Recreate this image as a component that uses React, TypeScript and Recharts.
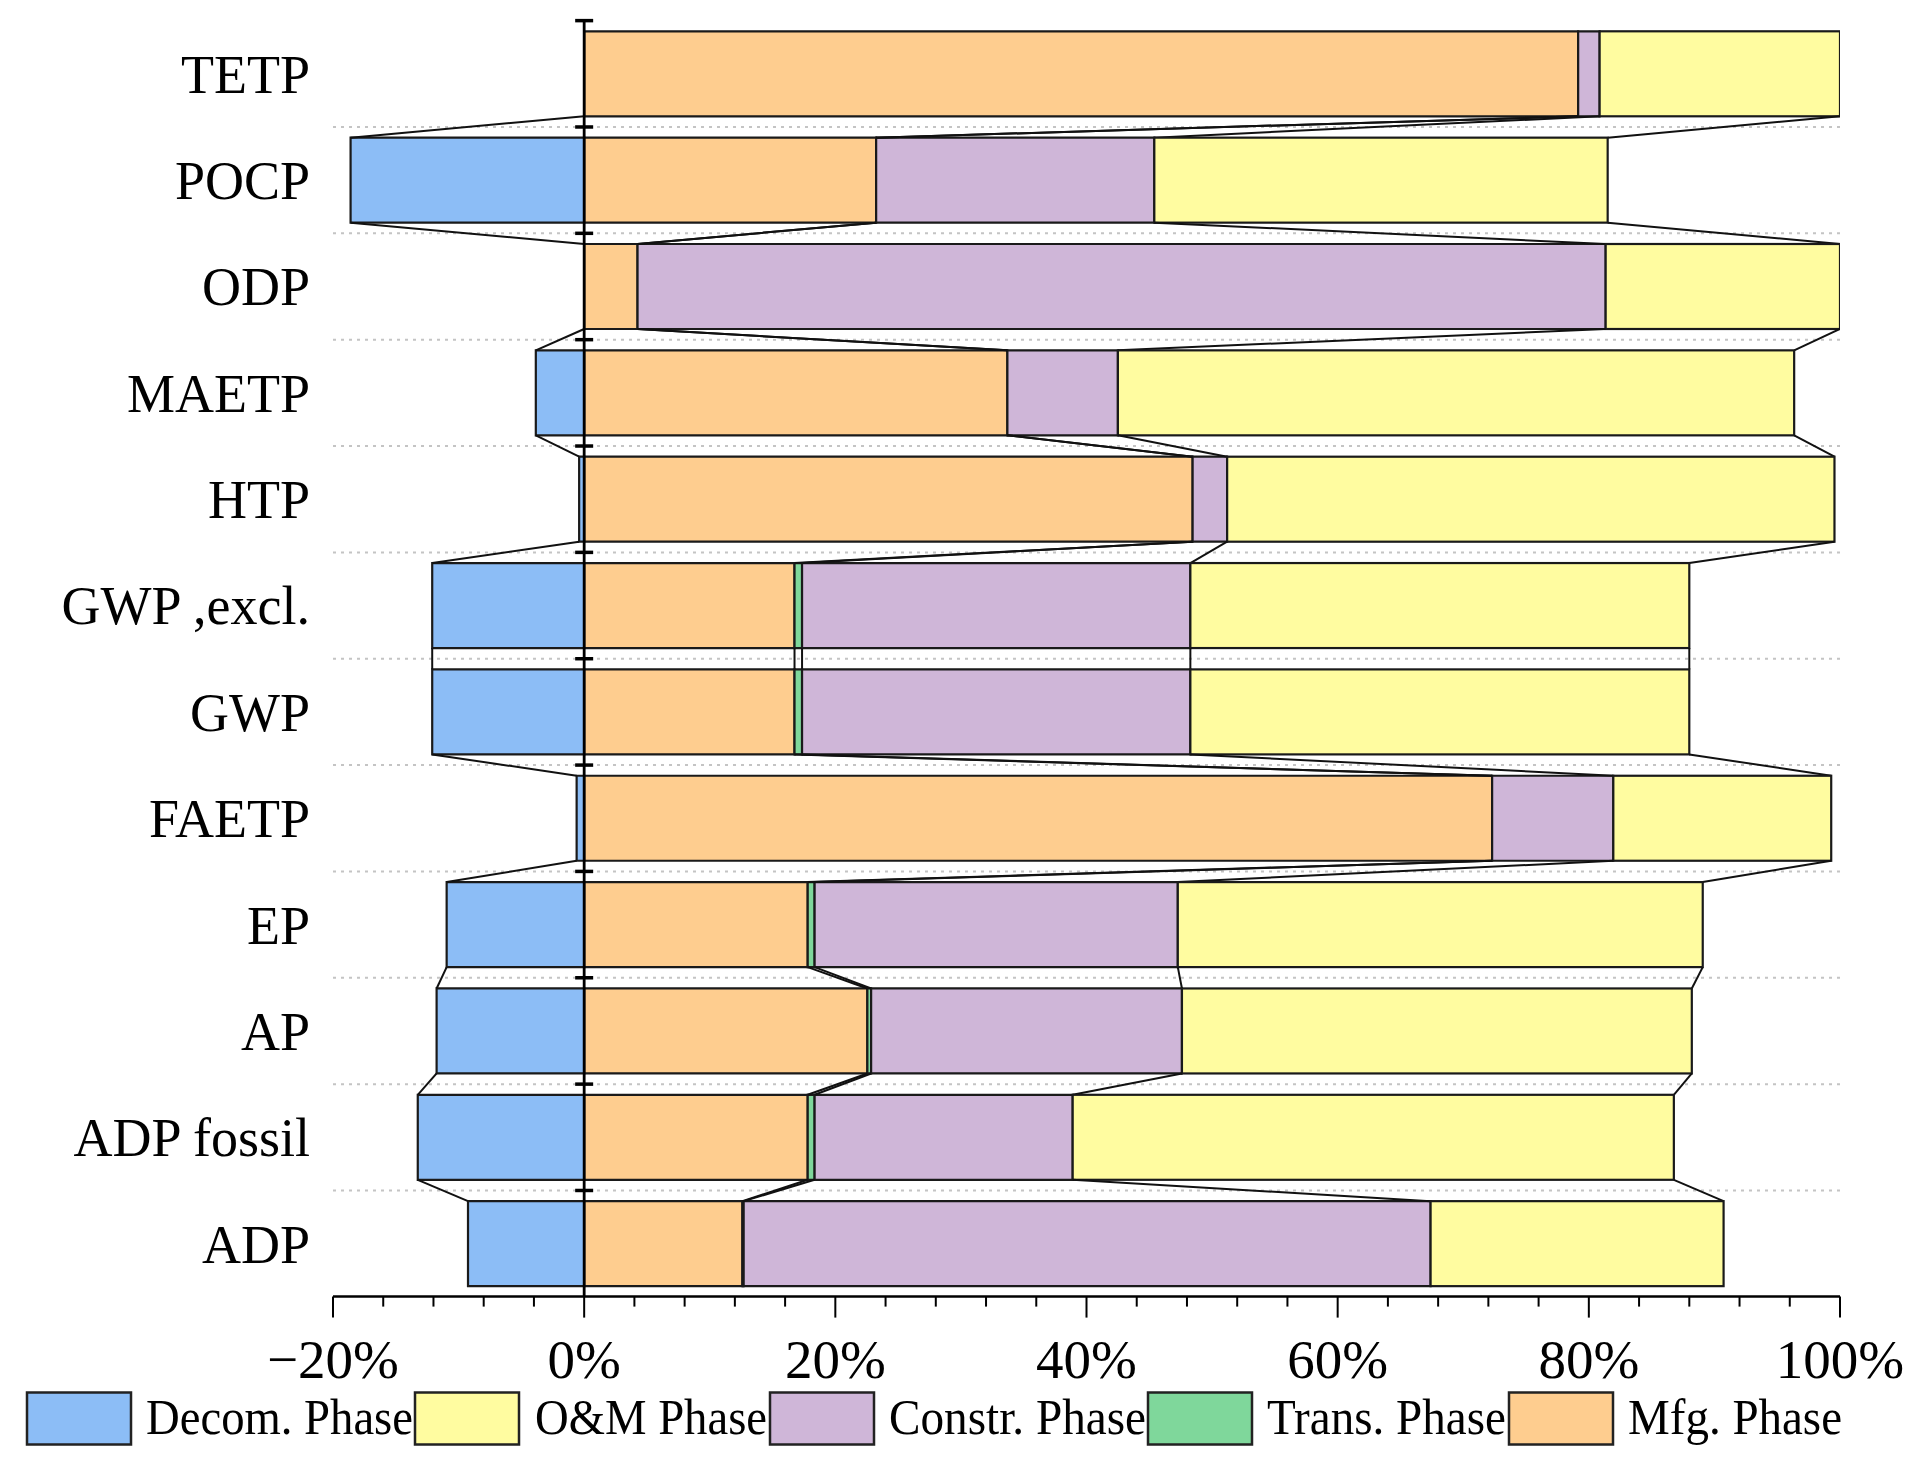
import React from 'react';
import { ComposedChart, Bar, XAxis, YAxis, ReferenceLine } from 'recharts';

const FONT = "'Liberation Serif', 'Times New Roman', serif";

const categories = ['TETP', 'POCP', 'ODP', 'MAETP', 'HTP', 'GWP ,excl.', 'GWP', 'FAETP', 'EP', 'AP', 'ADP fossil', 'ADP'];
const decom = [0, -18.6, 0, -3.85, -0.4, -12.1, -12.1, -0.6, -10.95, -11.75, -13.25, -9.25];
const mfg = [79.15, 23.25, 4.25, 33.7, 48.45, 16.75, 16.75, 72.3, 17.8, 22.55, 17.8, 12.6];
const trans = [0, 0, 0, 0, 0, 0.6, 0.6, 0, 0.55, 0.3, 0.55, 0.1];
const constr = [1.71, 22.15, 77.09, 8.8, 2.75, 30.92, 30.92, 9.65, 28.92, 24.75, 20.55, 54.7];
const om = [19.14, 36.1, 18.66, 53.85, 48.36, 39.73, 39.73, 17.35, 41.8, 40.6, 47.87, 23.33];

const xDomain = [-20, 100];
const xTicks = [-20, -16, -12, -8, -4, 0, 4, 8, 12, 16, 20, 24, 28, 32, 36, 40, 44, 48, 52, 56, 60, 64, 68, 72, 76, 80, 84, 88, 92, 96, 100];
const majorTicks = [-20, 0, 20, 40, 60, 80, 100];

const seriesNames = ['Decom. Phase', 'O&M Phase', 'Constr. Phase', 'Trans. Phase', 'Mfg. Phase'];
const seriesKeys = ['decom', 'om', 'constr', 'trans', 'mfg'];
const seriesColors = ['#8cbdf6', '#fffca0', '#cfb6d8', '#7fd79b', '#fecd8f'];

const data = categories.map((name, i) => ({
  name,
  decom: decom[i],
  mfg: mfg[i],
  trans: trans[i],
  constr: constr[i],
  om: om[i],
}));

// cumulative stack ends used by the connector lines between neighbouring bars
const ends = [
  decom,
  mfg,
  mfg.map((v, i) => v + trans[i]),
  mfg.map((v, i) => v + trans[i] + constr[i]),
  mfg.map((v, i) => v + trans[i] + constr[i] + om[i]),
];

const nCat = categories.length;

// chart layout
const CW = 1900;
const CH = 1400;
const M = { top: 12.4, right: 68, left: 0, bottom: 26.4 };
const XAXIS_H = 85;
const PLOT_H = CH - M.top - M.bottom - XAXIS_H;
const STEP = PLOT_H / nCat;

const colorOf = (k: string) => seriesColors[seriesKeys.indexOf(k)];

const XTick = (props: any) => {
  const { x, y, payload } = props;
  const v = payload.value;
  const major = majorTicks.includes(v);
  const label = v < 0 ? `\u2212${Math.abs(v)}%` : `${v}%`;
  return (
    <g>
      <line x1={x} x2={x} y1={y} y2={y + (major ? 21 : 10)} stroke="#000" strokeWidth={2} />
      {major && (
        <text x={x} y={y + 81} textAnchor="middle" fontSize={55} fontFamily={FONT} fill="#000">
          {label}
        </text>
      )}
    </g>
  );
};

// O&M segment: draws its rectangle plus the gridline, axis tick and connectors of its row
const OmShape = (props: any) => {
  const { x, y, width, height, payload, fill } = props;
  const i = categories.indexOf(payload.name);
  const start = payload.mfg + payload.trans + payload.constr;
  const end = start + payload.om;
  const k = width / (end - start);
  const x0 = x - start * k;
  const X = (v: number) => x0 + v * k;
  const half = (STEP - height) / 2;
  const left = X(xDomain[0]);
  const right = X(xDomain[1]);
  return (
    <g>
      <rect x={x} y={y} width={width} height={height} fill={fill} stroke="#1a1a1a" strokeWidth={2.2} />
      {i < nCat - 1 && (
        <line
          x1={left}
          x2={right}
          y1={y + height + half}
          y2={y + height + half}
          stroke="#c4c4c4"
          strokeWidth={2}
          strokeDasharray="3 5"
        />
      )}
      <line x1={X(0) - 9} x2={X(0) + 9} y1={y - half} y2={y - half} stroke="#000" strokeWidth={3.5} />
      {i < nCat - 1 &&
        ends.map((arr, s) => (
          <line
            key={s}
            x1={X(arr[i])}
            y1={y + height}
            x2={X(arr[i + 1])}
            y2={y + STEP}
            stroke="#111"
            strokeWidth={2}
          />
        ))}
    </g>
  );
};

const legendItems = [
  { i: 0, sx: 19, tx: 138, tl: 267 },
  { i: 1, sx: 407, tx: 527, tl: 232 },
  { i: 2, sx: 762, tx: 881, tl: 257 },
  { i: 3, sx: 1140, tx: 1259, tl: 239 },
  { i: 4, sx: 1501, tx: 1620, tl: 214 },
];

export default function App() {
  return (
    <div style={{ position: 'relative', width: CW, height: 1455, background: '#fff' }}>
      <ComposedChart
        width={CW}
        height={CH}
        data={data}
        layout="vertical"
        stackOffset="sign"
        barCategoryGap="10.25%"
        margin={M}
      >
        <XAxis
          type="number"
          domain={xDomain}
          ticks={xTicks}
          interval={0}
          allowDataOverflow
          tickLine={false}
          tickSize={0}
          tickMargin={0}
          height={XAXIS_H}
          axisLine={{ stroke: '#000', strokeWidth: 2.5 }}
          tick={XTick}
        />
        <YAxis
          type="category"
          dataKey="name"
          width={325}
          interval={0}
          axisLine={false}
          tickLine={false}
          tickSize={0}
          tickMargin={23}
          tick={{ fontSize: 54, fill: '#000', fontFamily: FONT }}
        />

        {['decom', 'mfg', 'trans', 'constr'].map((k) => (
          <Bar
            key={k}
            dataKey={k}
            name={seriesNames[seriesKeys.indexOf(k)]}
            stackId="a"
            fill={colorOf(k)}
            stroke="#1a1a1a"
            strokeWidth={2.2}
            isAnimationActive={false}
          />
        ))}
        <Bar
          dataKey="om"
          name="O&M Phase"
          stackId="a"
          fill={colorOf('om')}
          shape={OmShape}
          isAnimationActive={false}
        />

        <ReferenceLine x={0} stroke="#000" strokeWidth={2.8} ifOverflow="visible" />
      </ComposedChart>

      <svg width={CW} height={70} style={{ position: 'absolute', left: 0, top: 1380 }}>
        {legendItems.map((it) => (
          <g key={it.i}>
            <rect x={it.sx} y={4.5} width={104} height={52} fill={seriesColors[it.i]} stroke="#222" strokeWidth={2.5} />
            <text
              x={it.tx}
              y={46}
              fontSize={50}
              fontFamily={FONT}
              fill="#000"
              textLength={it.tl}
              lengthAdjust="spacingAndGlyphs"
            >
              {seriesNames[it.i]}
            </text>
          </g>
        ))}
      </svg>
    </div>
  );
}
